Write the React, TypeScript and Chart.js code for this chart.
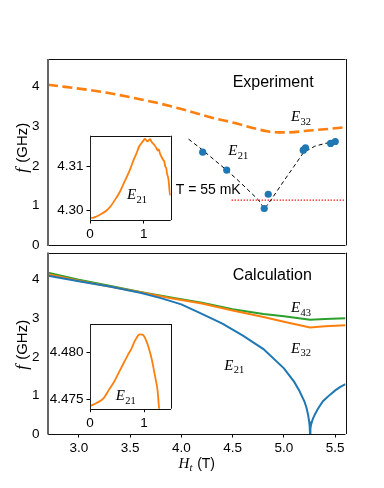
import { useEffect, useRef } from "react";
import { Chart, registerables } from "chart.js";

Chart.register(...registerables);

// ---------------- data ----------------
// Top panel (Experiment)
const expE32H = [2.7, 3.2, 3.7, 4.0, 4.3, 4.5, 4.73, 4.85, 4.95, 5.05, 5.22, 5.45, 5.6];
const expE32F = [4.05, 3.88, 3.63, 3.44, 3.22, 3.1, 2.94, 2.87, 2.85, 2.85, 2.89, 2.94, 2.98];
const fitH = [4.07, 4.2, 4.31, 4.44, 4.54, 4.65, 4.75, 4.81, 4.88, 5.0, 5.1, 5.19, 5.3, 5.4, 5.51];
const fitF = [2.68, 2.42, 2.18, 1.9, 1.67, 1.4, 1.15, 0.92, 1.17, 1.63, 2.0, 2.34, 2.5, 2.57, 2.63];
const expE21H = [4.208, 4.442, 4.847, 4.808, 5.188, 5.21, 5.455, 5.5];
const expE21F = [2.35, 1.9, 1.29, 0.93, 2.4, 2.46, 2.57, 2.62];
const tempLineH = [4.49, 5.6];
const tempLineF = [1.14, 1.14];

// Bottom panel (Calculation)
const calcE21H = [2.7, 3.0, 3.3, 3.6, 3.8, 4.0, 4.2, 4.4, 4.6, 4.8, 5.0, 5.1, 5.15, 5.2, 5.22, 5.235, 5.245, 5.25, 5.254, 5.258, 5.265, 5.28, 5.3, 5.33, 5.38, 5.45, 5.5, 5.55, 5.6];
const calcE21F = [4.1, 3.96, 3.82, 3.66, 3.52, 3.36, 3.11, 2.86, 2.55, 2.2, 1.7, 1.35, 1.12, 0.84, 0.68, 0.5, 0.34, 0.22, 0.0, 0.15, 0.25, 0.38, 0.5, 0.65, 0.85, 1.02, 1.13, 1.22, 1.29];
const calcE32H = [2.7, 3.0, 3.3, 3.6, 3.9, 4.2, 4.5, 4.8, 5.0, 5.254, 5.4, 5.6];
const calcE32F = [4.14, 3.97, 3.82, 3.67, 3.52, 3.38, 3.2, 3.03, 2.91, 2.76, 2.79, 2.82];
const calcE43H = [2.7, 3.0, 3.3, 3.6, 3.9, 4.2, 4.5, 4.8, 5.0, 5.254, 5.4, 5.6];
const calcE43F = [4.18, 4.0, 3.84, 3.68, 3.54, 3.4, 3.23, 3.11, 3.05, 2.96, 2.98, 3.0];

// Insets
const insetExpX = [0.0, 0.05, 0.12, 0.2, 0.3, 0.37, 0.45, 0.556, 0.65, 0.74, 0.82, 0.864, 0.91, 0.957, 1.0, 1.02, 1.05, 1.07, 1.1, 1.12, 1.14, 1.19, 1.235, 1.26, 1.28, 1.3, 1.33, 1.36, 1.38, 1.4, 1.42, 1.43, 1.46, 1.48, 1.49];
const insetExpF = [4.2985, 4.2984, 4.2987, 4.2992, 4.3, 4.3008, 4.3022, 4.3043, 4.3068, 4.3092, 4.3118, 4.313, 4.3145, 4.3153, 4.316, 4.3163, 4.3159, 4.3157, 4.3161, 4.3162, 4.3157, 4.315, 4.3142, 4.3136, 4.3139, 4.313, 4.3122, 4.3115, 4.3112, 4.31, 4.3095, 4.3085, 4.307, 4.3043, 4.3035];
const insetCalcX = [0.0, 0.05, 0.12, 0.25, 0.35, 0.43, 0.53, 0.62, 0.7, 0.77, 0.83, 0.87, 0.9, 0.93, 0.96, 0.99, 1.02, 1.05, 1.08, 1.13, 1.17, 1.21, 1.25, 1.28, 1.29];
const insetCalcF = [4.4743, 4.4744, 4.4746, 4.4751, 4.476, 4.4767, 4.4778, 4.4788, 4.4797, 4.4804, 4.4812, 4.4816, 4.48185, 4.4819, 4.48188, 4.4818, 4.4815, 4.4811, 4.4806, 4.4796, 4.4785, 4.4773, 4.476, 4.474, 4.4735];

// Tick labels
const mainXTicks = [3.0, 3.5, 4.0, 4.5, 5.0, 5.5];
const mainYTicks = [0, 1, 2, 3, 4];
const insetXTicks = [0, 1];
const insetExpYTicks = [4.3, 4.31];
const insetCalcYTicks = [4.475, 4.48];

// ---------------- styling ----------------
const SANS = '"Liberation Sans", Arial, Helvetica, sans-serif';
const SERIF = '"Liberation Serif", "Times New Roman", serif';
const BLUE = "#1f77b4";
const ORANGE = "#ff7f0e";
const GREEN = "#2ca02c";
const TICK_SIZE = 13.5;

Chart.defaults.font.family = SANS;
Chart.defaults.color = "#000";

type Label =
  | { kind: "text"; text: string; x: number; y: number; size: number }
  | { kind: "math"; main: string; sub: string; x: number; y: number };

const toPts = (xs: number[], ys: number[]) => xs.map((x, i) => ({ x, y: ys[i] }));

function drawMath(ctx: CanvasRenderingContext2D, x: number, y: number, main: string, sub: string, size = 15, subItalic = false) {
  ctx.font = `italic ${size}px ${SERIF}`;
  ctx.fillText(main, x, y);
  const w = ctx.measureText(main).width;
  ctx.font = `${subItalic ? "italic " : ""}${size * 0.7}px ${SERIF}`;
  ctx.fillText(sub, x + w + 0.3, y + size * 0.22);
  return w + ctx.measureText(sub).width + 0.3;
}

function labelsPlugin(labels: Label[]) {
  return {
    id: "labels",
    afterDraw(chart: any) {
      const ctx = chart.ctx as CanvasRenderingContext2D;
      const xs = chart.scales.x;
      const ys = chart.scales.y;
      ctx.save();
      ctx.fillStyle = "#000";
      ctx.textBaseline = "alphabetic";
      ctx.textAlign = "left";
      for (const l of labels) {
        const px = xs.getPixelForValue(l.x);
        const py = ys.getPixelForValue(l.y);
        if (l.kind === "text") {
          ctx.font = `${l.size}px ${SANS}`;
          ctx.fillText(l.text, px, py);
        } else {
          drawMath(ctx, px, py, l.main, l.sub);
        }
      }
      ctx.restore();
    },
  };
}

const framePlugin = (whiteBg: boolean) => ({
  id: "frame",
  beforeDraw(chart: any) {
    if (!whiteBg) return;
    const { left, top, right, bottom } = chart.chartArea;
    const ctx = chart.ctx as CanvasRenderingContext2D;
    ctx.save();
    ctx.fillStyle = "#fff";
    ctx.fillRect(left, top, right - left, bottom - top);
    ctx.restore();
  },
  afterDraw(chart: any) {
    const { left, top, right, bottom } = chart.chartArea;
    const ctx = chart.ctx as CanvasRenderingContext2D;
    ctx.save();
    ctx.strokeStyle = "#111";
    ctx.lineWidth = 1;
    ctx.beginPath();
    ctx.moveTo(left, Math.round(top) + 0.5);
    ctx.lineTo(right, Math.round(top) + 0.5);
    ctx.moveTo(Math.round(right) + 0.5, top);
    ctx.lineTo(Math.round(right) + 0.5, bottom);
    ctx.moveTo(left, Math.round(bottom) + 0.5);
    ctx.lineTo(right, Math.round(bottom) + 0.5);
    ctx.stroke();
    ctx.strokeStyle = whiteBg ? "#222" : "#666";
    ctx.lineWidth = whiteBg ? 1 : 2;
    ctx.beginPath();
    ctx.moveTo(Math.round(left) + (whiteBg ? 0.5 : 0), top);
    ctx.lineTo(Math.round(left) + (whiteBg ? 0.5 : 0), bottom + 0.5);
    ctx.stroke();
    ctx.restore();
  },
});

function yTitlePlugin(shift: number) {
  return {
    id: "ytitle",
    afterDraw(chart: any) {
      const ctx = chart.ctx as CanvasRenderingContext2D;
      const { left, top, bottom } = chart.chartArea;
      const cx = left - 26.5;
      const cy = (top + bottom) / 2 + shift;
      ctx.save();
      ctx.translate(cx, cy);
      ctx.rotate(-Math.PI / 2);
      ctx.fillStyle = "#000";
      ctx.textBaseline = "alphabetic";
      ctx.font = `italic 17px ${SERIF}`;
      const wf = ctx.measureText("f").width;
      ctx.font = `15px ${SANS}`;
      const wr = ctx.measureText(" (GHz)").width;
      const start = -(wf + wr) / 2;
      ctx.font = `italic 17px ${SERIF}`;
      ctx.fillText("f", start, 5);
      ctx.font = `15px ${SANS}`;
      ctx.fillText(" (GHz)", start + wf + 1, 5);
      ctx.restore();
    },
  };
}

function xTitlePlugin() {
  return {
    id: "xtitle",
    afterDraw(chart: any) {
      const ctx = chart.ctx as CanvasRenderingContext2D;
      const { left, right, bottom } = chart.chartArea;
      ctx.save();
      ctx.fillStyle = "#000";
      ctx.textBaseline = "alphabetic";
      ctx.font = `italic 15px ${SERIF}`;
      const wH = ctx.measureText("H").width;
      ctx.font = `italic 10.5px ${SERIF}`;
      const wt = ctx.measureText("t").width;
      ctx.font = `14px ${SANS}`;
      const wr = ctx.measureText(" (T)").width;
      const total = wH + wt + wr + 1;
      let x = (left + right) / 2 - total / 2;
      const y = bottom + 34;
      drawMath(ctx, x, y, "H", "t", 15, true);
      x += wH + wt + 1;
      ctx.font = `14px ${SANS}`;
      ctx.fillText(" (T)", x, y);
      ctx.restore();
    },
  };
}

const lineDs = (xs: number[], ys: number[], color: string, width: number, dash: number[] = [], order = 2, smooth = false) => ({
  data: toPts(xs, ys),
  showLine: true,
  borderColor: color,
  borderWidth: width,
  borderDash: dash,
  pointRadius: 0,
  pointHoverRadius: 0,
  tension: smooth ? 0.4 : 0,
  cubicInterpolationMode: smooth ? ("monotone" as const) : ("default" as const),
  fill: false,
  order,
});

function baseOptions(opts: {
  xMin: number; xMax: number; yMin: number; yMax: number;
  xTicks: number[] | null; yTicks: number[];
  yFmt: (v: number) => string; xFmt: (v: number) => string;
  padding: { top: number; right: number; bottom: number; left: number };
  yWidth: number; xHeight: number; yTickLen: number; yPad: number;
}) {
  return {
    responsive: false,
    animation: false as const,
    devicePixelRatio: 1,
    events: [],
    layout: { padding: opts.padding },
    plugins: { legend: { display: false }, tooltip: { enabled: false } },
    scales: {
      x: {
        type: "linear" as const,
        min: opts.xMin,
        max: opts.xMax,
        display: opts.xTicks !== null,
        afterBuildTicks: (axis: any) => {
          if (opts.xTicks) axis.ticks = opts.xTicks.map((v) => ({ value: v }));
        },
        afterFit: (s: any) => { s.height = opts.xHeight; },
        ticks: {
          font: { size: TICK_SIZE, family: SANS },
          color: "#000",
          padding: 2.5,
          maxRotation: 0,
          autoSkip: false,
          callback: (v: any) => opts.xFmt(Number(v)),
        },
        grid: { display: true, drawOnChartArea: false, drawTicks: true, tickLength: 3.5, color: "#000", tickColor: "#000", lineWidth: 1 },
        border: { display: false },
      },
      y: {
        type: "linear" as const,
        min: opts.yMin,
        max: opts.yMax,
        afterBuildTicks: (axis: any) => {
          axis.ticks = opts.yTicks.map((v) => ({ value: v }));
        },
        afterFit: (s: any) => { s.width = opts.yWidth; },
        ticks: {
          font: { size: TICK_SIZE, family: SANS },
          color: "#000",
          padding: opts.yPad,
          autoSkip: false,
          callback: (v: any) => opts.yFmt(Number(v)),
        },
        grid: opts.yTickLen > 0
          ? { display: true, drawOnChartArea: false, drawTicks: true, tickLength: opts.yTickLen, color: "#000", tickColor: "#000", lineWidth: 1 }
          : { display: false, drawTicks: false },
        border: { display: false },
      },
    },
  };
}

function useChart(ref: React.RefObject<HTMLCanvasElement | null>, make: () => any) {
  useEffect(() => {
    if (!ref.current) return;
    const chart = new Chart(ref.current, make());
    return () => chart.destroy();
  }, []);
}

const topLabels: Label[] = [
  { kind: "text", text: "Experiment", x: 4.5, y: 4.0, size: 16 },
  { kind: "text", text: "T = 55 mK", x: 3.945, y: 1.29, size: 14 },
  { kind: "math", main: "E", sub: "32", x: 5.069, y: 3.13 },
  { kind: "math", main: "E", sub: "21", x: 4.457, y: 2.27 },
];
const bottomLabels: Label[] = [
  { kind: "text", text: "Calculation", x: 4.5, y: 3.98, size: 16 },
  { kind: "math", main: "E", sub: "43", x: 5.069, y: 3.15 },
  { kind: "math", main: "E", sub: "32", x: 5.069, y: 2.11 },
  { kind: "math", main: "E", sub: "21", x: 4.418, y: 1.67 },
];
const insetTopLabels: Label[] = [{ kind: "math", main: "E", sub: "21", x: 0.69, y: 4.3026 }];
const insetBottomLabels: Label[] = [{ kind: "math", main: "E", sub: "21", x: 0.476, y: 4.4749 }];

export default function App() {
  const topRef = useRef<HTMLCanvasElement>(null);
  const botRef = useRef<HTMLCanvasElement>(null);
  const inTopRef = useRef<HTMLCanvasElement>(null);
  const inBotRef = useRef<HTMLCanvasElement>(null);

  useChart(topRef, () => ({
    type: "scatter",
    data: {
      datasets: [
        {
          data: toPts(expE21H, expE21F),
          showLine: false,
          pointRadius: 3.6,
          pointBackgroundColor: BLUE,
          pointBorderWidth: 0,
          pointHoverRadius: 0,
          order: 0,
        },
        lineDs(tempLineH, tempLineF, "#ff0000", 1.2, [1.3, 1.7], 1),
        lineDs(fitH, fitF, "#000", 1, [4, 3], 1),
        lineDs(expE32H, expE32F, ORANGE, 2.6, [10, 4.5], 2, true),
      ],
    },
    options: baseOptions({
      xMin: 2.7, xMax: 5.6, yMin: 0, yMax: 4.7, xTicks: null, yTicks: mainYTicks,
      yFmt: (v) => String(v), xFmt: (v) => v.toFixed(1),
      padding: { top: 59, right: 38.5, bottom: 16, left: 0 },
      yWidth: 48, xHeight: 0, yTickLen: 0, yPad: 8.5,
    }),
    plugins: [framePlugin(false), labelsPlugin(topLabels), yTitlePlugin(-4)],
  }));

  useChart(botRef, () => ({
    type: "scatter",
    data: {
      datasets: [
        lineDs(calcE43H, calcE43F, GREEN, 2, [], 3),
        lineDs(calcE32H, calcE32F, ORANGE, 2, [], 2),
        lineDs(calcE21H, calcE21F, BLUE, 2, [], 1),
      ],
    },
    options: baseOptions({
      xMin: 2.7, xMax: 5.6, yMin: 0, yMax: 4.7, xTicks: mainXTicks, yTicks: mainYTicks,
      yFmt: (v) => String(v), xFmt: (v) => v.toFixed(1),
      padding: { top: 10, right: 38.5, bottom: 0, left: 0 },
      yWidth: 48, xHeight: 54, yTickLen: 0, yPad: 8.5,
    }),
    plugins: [framePlugin(false), labelsPlugin(bottomLabels), yTitlePlugin(2), xTitlePlugin()],
  }));

  useChart(inTopRef, () => ({
    type: "scatter",
    data: { datasets: [lineDs(insetExpX, insetExpF, ORANGE, 1.8, [], 2, true)] },
    options: baseOptions({
      xMin: 0, xMax: 1.5, yMin: 4.2979, yMax: 4.317, xTicks: insetXTicks, yTicks: insetExpYTicks,
      yFmt: (v) => v.toFixed(2), xFmt: (v) => String(Math.round(v)),
      padding: { top: 15.7, right: 9.3, bottom: 0, left: 0 },
      yWidth: 50, xHeight: 25, yTickLen: 3.5, yPad: 3,
    }),
    plugins: [framePlugin(true), labelsPlugin(insetTopLabels)],
  }));

  useChart(inBotRef, () => ({
    type: "scatter",
    data: { datasets: [lineDs(insetCalcX, insetCalcF, ORANGE, 1.8, [], 2, true)] },
    options: baseOptions({
      xMin: 0, xMax: 1.5, yMin: 4.474, yMax: 4.483, xTicks: insetXTicks, yTicks: insetCalcYTicks,
      yFmt: (v) => v.toFixed(3), xFmt: (v) => String(Math.round(v)),
      padding: { top: 19, right: 9, bottom: 0, left: 0 },
      yWidth: 50, xHeight: 26.3, yTickLen: 3.5, yPad: 3,
    }),
    plugins: [framePlugin(true), labelsPlugin(insetBottomLabels)],
  }));

  const abs = (left: number, top: number, width: number, height: number): React.CSSProperties => ({
    position: "absolute", left, top, width, height,
  });

  return (
    <div style={{ position: "absolute", left: 0, top: 0, width: 384, height: 488, background: "#fff", overflow: "hidden" }}>
      <canvas ref={topRef} width={384} height={262} style={abs(0, 0, 384, 262)} />
      <canvas ref={botRef} width={384} height={252} style={abs(0, 236, 384, 252)} />
      <canvas ref={inTopRef} width={140} height={125} style={abs(40, 120, 140, 125)} />
      <canvas ref={inBotRef} width={140} height={130} style={abs(40, 305, 140, 130)} />
    </div>
  );
}
